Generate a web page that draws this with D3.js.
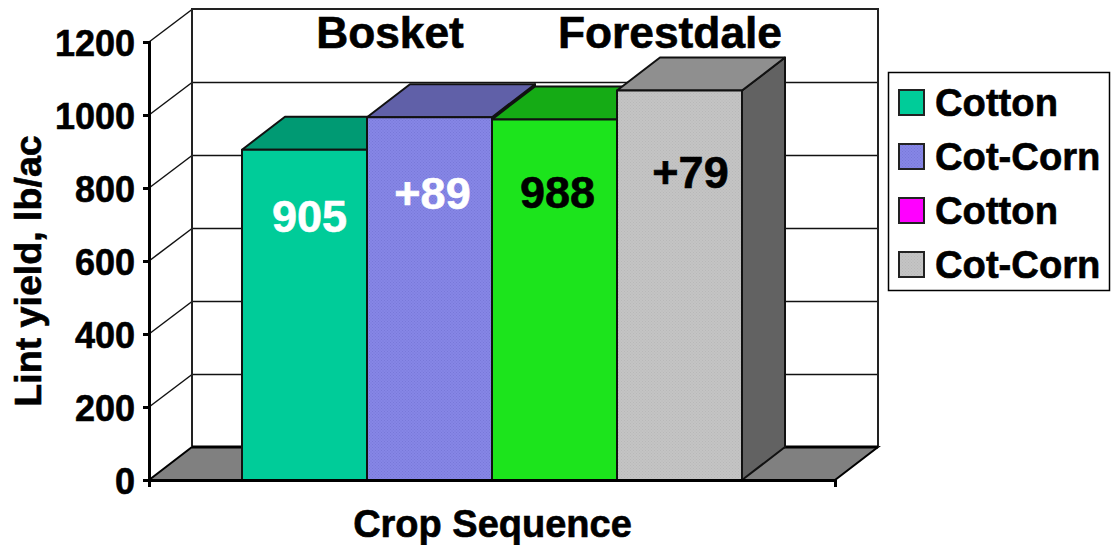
<!DOCTYPE html>
<html lang="en">
<head>
  <meta charset="UTF-8">
  <title>Lint yield by crop sequence</title>
  <script src="https://d3js.org/d3.v7.min.js"></script>
  <style>
  body { margin: 0; background: #fff; }
  svg { display: block; }
  text { font-family: "Liberation Sans", Arial, sans-serif; font-weight: bold; fill: #000; stroke: #000; stroke-width: 0.6px; }
  .y.axis text { font-size: 36px; }
  .axis path, .axis line { stroke: #000; stroke-width: 3px; }
  .grid { stroke: #111; stroke-width: 1.5px; fill: none; }
  .wall { stroke: #222; stroke-width: 2px; fill: none; }
  .bar { stroke: #111; stroke-width: 2px; stroke-linejoin: round; }
  </style>
</head>
<body>
  <div class="container"></div>
  <script>
  var categories = ["a", "b", "c", "d"];
  var values = [905, 994, 988, 1067];
  var barLabels = ["905", "+89", "988", "+79"];
  var labelColors = ["#fff", "#fff", "#000", "#000"];
  var frontColors = ["#00cc99", "url(#dot-purple)", "#1ce41c", "url(#dot-grey)"];
  var topColors = ["#009a73", "#6060a8", "#15ab15", "#8f8f8f"];
  var sideColors = ["#007a5c", "#4a4a85", "#0f8a0f", "#626262"];
  var yTicks = [0, 200, 400, 600, 800, 1000, 1200];
  var legendNames = ["Cotton", "Cot-Corn", "Cotton", "Cot-Corn"];
  var legendColors = ["#00cc99", "url(#dot-purple)", "#ff00ff", "url(#dot-grey)"];
  var locations = ["Bosket", "Forestdale"];

  var w = 1111, h = 545;
  var depthX = 43, depthY = -33;
  // how far each value label sits below its bar top, and its nudge off centre
  var labelDrop = [82, 92, 89, 97];
  var labelNudge = [5, 3, 3, 11];

  var yScale = d3.scaleLinear().domain([0, 1200]).range([480, 42]);
  var xScale = d3.scaleBand().domain(categories).range([242, 742]);
  var floorScale = d3.scaleLinear().domain([0, 1]).range([149, 835]);
  var legendScale = d3.scaleBand().domain(d3.range(legendNames.length)).range([76, 292]);
  var locScale = d3.scaleOrdinal().domain(locations).range([390, 670]);

  var svg = d3.select('.container').append('svg').attr('width', w).attr('height', h);

  // dithered fills, the source chart has them on two of the bars
  function dither(id, a, b) {
    var p = svg.append('defs').append('pattern')
      .attr('id', id).attr('width', 3).attr('height', 3)
      .attr('patternUnits', 'userSpaceOnUse');
    p.append('rect').attr('width', 3).attr('height', 3).attr('fill', a);
    p.append('rect').attr('width', 1).attr('height', 1).attr('fill', b);
    p.append('rect').attr('x', 1.5).attr('y', 1.5).attr('width', 1).attr('height', 1).attr('fill', b);
  }
  dither('dot-purple', '#8686e6', '#7878d8');
  dither('dot-grey', '#c4c4c4', '#b8b8b8');

  var x0 = floorScale(0), x1 = floorScale(1), y0 = yScale(0), yMax = yScale(1200);

  // floor
  svg.append('path')
    .attr('d', d3.line()([[x0, y0], [x0 + depthX, y0 + depthY], [x1 + depthX, y0 + depthY], [x1, y0]]) + 'Z')
    .attr('fill', '#808080').attr('stroke', '#000').attr('stroke-width', 2);

  // gridlines on back wall and left wall
  svg.selectAll('.grid-back').data(yTicks.slice(1, -1)).enter().append('line')
    .attr('class', 'grid')
    .attr('x1', x0 + depthX).attr('x2', x1 + depthX)
    .attr('y1', function(d) { return yScale(d) + depthY + 0.5; })
    .attr('y2', function(d) { return yScale(d) + depthY + 0.5; });
  svg.selectAll('.grid-side').data(yTicks.slice(1)).enter().append('line')
    .attr('class', 'grid')
    .attr('x1', x0).attr('x2', x0 + depthX)
    .attr('y1', function(d) { return yScale(d); })
    .attr('y2', function(d) { return yScale(d) + depthY + 0.5; });

  // wall frame
  svg.append('path').attr('class', 'wall')
    .attr('d', d3.line()([[x0 + depthX, y0 + depthY], [x0 + depthX, yMax + depthY], [x1 + depthX, yMax + depthY], [x1 + depthX, y0 + depthY]]));
  svg.append('line').attr('stroke', '#000').attr('stroke-width', 3)
    .attr('x1', x0 + depthX).attr('x2', x1 + depthX)
    .attr('y1', y0 + depthY).attr('y2', y0 + depthY);

  // bars, left to right so later ones cover the earlier side faces
  var bars = svg.selectAll('.col').data(values).enter().append('g').attr('class', 'col');
  bars.append('path').attr('class', 'bar')
    .attr('fill', function(d, i) { return sideColors[i]; })
    .attr('d', function(d, i) {
      var r = xScale(categories[i]) + xScale.bandwidth();
      return d3.line()([[r, yScale(d)], [r + depthX, yScale(d) + depthY], [r + depthX, y0 + depthY], [r, y0]]) + 'Z';
    });
  bars.append('path').attr('class', 'bar')
    .attr('fill', function(d, i) { return topColors[i]; })
    .attr('d', function(d, i) {
      var l = xScale(categories[i]), r = l + xScale.bandwidth();
      return d3.line()([[l, yScale(d)], [l + depthX, yScale(d) + depthY], [r + depthX, yScale(d) + depthY], [r, yScale(d)]]) + 'Z';
    });
  bars.append('rect').attr('class', 'bar')
    .attr('x', function(d, i) { return xScale(categories[i]); })
    .attr('y', function(d) { return yScale(d); })
    .attr('width', xScale.bandwidth())
    .attr('height', function(d) { return y0 - yScale(d); })
    .attr('fill', function(d, i) { return frontColors[i]; });

  svg.selectAll('.bar-label').data(values).enter().append('text')
    .attr('class', 'bar-label')
    .attr('x', function(d, i) { return xScale(categories[i]) + xScale.bandwidth() / 2 + labelNudge[i]; })
    .attr('y', function(d, i) { return yScale(d) + labelDrop[i]; })
    .attr('text-anchor', 'middle')
    .attr('font-size', 45)
    .style('fill', function(d, i) { return labelColors[i]; })
    .style('stroke', function(d, i) { return labelColors[i]; })
    .text(function(d, i) { return barLabels[i]; });

  // axes
  var yAxis = d3.axisLeft(yScale).tickValues(yTicks).tickSize(6).tickPadding(8).tickFormat(d3.format('d'));
  svg.append('g').attr('class', 'y axis').attr('transform', 'translate(' + x0 + ',0)').call(yAxis);
  svg.selectAll('.y.axis text').attr('dy', '0.38em');
  var xAxis = d3.axisBottom(floorScale).tickValues([0, 1]).tickSize(7).tickSizeOuter(0).tickFormat('');
  svg.append('g').attr('class', 'x axis').attr('transform', 'translate(0,' + y0 + ')').call(xAxis);

  svg.append('text').attr('x', 492.5).attr('y', 537).attr('text-anchor', 'middle')
    .attr('font-size', 38).text('Crop Sequence');
  svg.append('text').attr('transform', 'translate(41,271) rotate(-90)').attr('text-anchor', 'middle')
    .attr('font-size', 37.6).text('Lint yield, lb/ac');

  svg.selectAll('.loc').data(locations).enter().append('text')
    .attr('class', 'loc')
    .attr('x', function(d) { return locScale(d); }).attr('y', 48)
    .attr('text-anchor', 'middle').attr('font-size', 44.3)
    .text(function(d) { return d; });

  // legend
  svg.append('rect').attr('x', 888.5).attr('y', 72.5).attr('width', 221).attr('height', 218)
    .attr('fill', '#fff').attr('stroke', '#000').attr('stroke-width', 1.5);
  var lg = svg.selectAll('.lg').data(legendNames).enter().append('g')
    .attr('class', 'lg')
    .attr('transform', function(d, i) { return 'translate(899,' + legendScale(i) + ')'; });
  lg.append('rect').attr('y', 14).attr('width', 25).attr('height', 25)
    .attr('stroke', '#222').attr('stroke-width', 2)
    .attr('fill', function(d, i) { return legendColors[i]; });
  lg.append('text').attr('x', 36).attr('y', 40).attr('font-size', 38.2)
    .text(function(d) { return d; });
  </script>
</body>
</html>
